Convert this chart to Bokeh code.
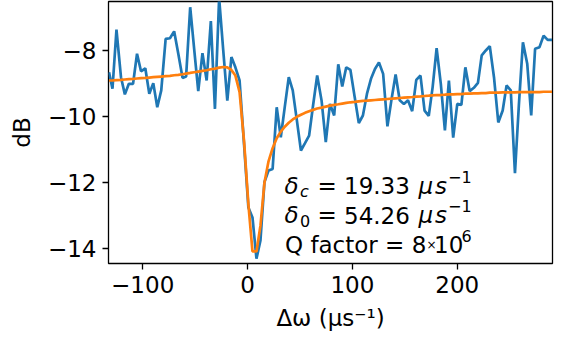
from bokeh.plotting import figure
from bokeh.models import Label, FixedTicker, ColumnDataSource
from bokeh.embed import file_html
from bokeh.resources import INLINE

# ---------------- data ----------------
detuning = [-132.1, -128.8, -125.0, -120.7, -117.0, -113.2, -109.2, -105.4, -101.6, -97.5,
            -93.7, -89.9, -86.1, -82.3, -78.1, -74.0, -70.0, -66.0, -62.0, -58.6,
            -54.7, -50.9, -47.0, -43.0, -39.0, -35.0, -31.1, -27.1, -23.2, -19.3,
            -15.4, -11.6, -7.6, -3.3, 0.8, 4.7, 8.5, 12.3, 16.1, 20.0,
            23.9, 27.8, 31.7, 35.5, 39.3, 43.1, 47.0, 50.9, 54.8, 58.7,
            62.5, 66.4, 70.6, 74.6, 78.6, 82.6, 86.5, 90.3, 94.1, 98.1,
            102.2, 106.1, 110.0, 113.9, 117.7, 121.5, 125.3, 129.3, 133.4, 137.4,
            141.2, 145.1, 149.1, 153.0, 157.0, 160.9, 164.9, 168.8, 172.8, 176.5,
            180.3, 184.3, 188.2, 192.0, 196.1, 200.0, 203.9, 207.7, 211.8, 215.8,
            219.7, 223.3, 227.2, 231.0, 235.0, 239.1, 243.3, 247.0, 251.0, 255.0,
            258.8, 262.6, 266.7, 270.5, 274.2, 278.4, 282.3, 286.2, 290.3]

measured_db = [-8.65, -9.15, -7.36, -8.80, -9.32, -9.00, -9.00, -8.09, -8.62, -8.53,
               -9.30, -8.98, -9.71, -9.20, -7.64, -7.62, -7.41, -8.10, -8.82, -8.78,
               -6.68, -7.95, -9.22, -8.07, -8.90, -7.10, -9.76, -6.40, -7.98, -9.51,
               -8.19, -8.50, -8.90, -10.85, -12.75, -13.05, -14.30, -13.75, -11.98, -11.63,
               -11.58, -9.71, -10.62, -9.70, -8.80, -9.20, -10.10, -11.02, -10.80, -10.57,
               -9.65, -8.75, -9.51, -10.77, -9.61, -9.96, -8.41, -9.08, -8.50, -8.58,
               -9.41, -10.19, -9.96, -9.30, -8.85, -8.55, -8.35, -8.70, -10.29, -9.45,
               -8.72, -9.50, -9.61, -9.50, -9.83, -8.88, -8.75, -9.81, -9.97, -9.10,
               -7.92, -9.00, -10.41, -8.90, -10.63, -9.61, -9.64, -8.50, -9.22, -9.12,
               -8.97, -8.14, -7.99, -7.86, -8.80, -10.17, -9.81, -9.05, -9.20, -11.71,
               -9.61, -7.74, -8.39, -9.96, -7.94, -7.89, -7.54, -7.67, -7.67]

fit_db = [-8.90, -8.90, -8.89, -8.88, -8.87, -8.86, -8.85, -8.84, -8.83, -8.82,
          -8.81, -8.80, -8.79, -8.78, -8.77, -8.76, -8.74, -8.73, -8.71, -8.69,
          -8.67, -8.65, -8.63, -8.61, -8.59, -8.56, -8.54, -8.51, -8.49, -8.50,
          -8.58, -8.75, -9.25, -10.75, -12.65, -14.08, -14.08, -13.30, -12.00, -11.35,
          -10.95, -10.65, -10.45, -10.30, -10.18, -10.08, -10.00, -9.94, -9.88, -9.83,
          -9.79, -9.75, -9.72, -9.69, -9.66, -9.64, -9.62, -9.60, -9.58, -9.56,
          -9.55, -9.53, -9.52, -9.51, -9.50, -9.49, -9.48, -9.47, -9.46, -9.45,
          -9.44, -9.43, -9.42, -9.41, -9.40, -9.39, -9.38, -9.37, -9.36, -9.35,
          -9.34, -9.34, -9.33, -9.32, -9.32, -9.31, -9.31, -9.30, -9.30, -9.29,
          -9.29, -9.28, -9.28, -9.27, -9.27, -9.27, -9.26, -9.26, -9.26, -9.26,
          -9.25, -9.25, -9.25, -9.25, -9.25, -9.25, -9.24, -9.24, -9.24]

x_ticks = [-100, 0, 100, 200]
x_tick_labels = ["\u2212100", "0", "100", "200"]
y_ticks = [-14, -12, -10, -8]
y_tick_labels = ["\u221214", "\u221212", "\u221210", "\u22128"]

# ---------------- layout ----------------
W, H = 562, 339
FL, FR, FT, FB = 108, 552, 1, 263
X0, X1 = -132.6, 290.8
Y0, Y1 = -14.445, -6.506
FONT = "DejaVu Sans"
FS = "23px"
SMALL = "16px"

p = figure(width=W, height=H, output_backend="svg", toolbar_location=None,
           x_range=(X0, X1), y_range=(Y0, Y1),
           min_border_left=FL, min_border_right=W - FR,
           min_border_top=FT, min_border_bottom=H - FB)
p.title.visible = False
p.background_fill_color = "white"
p.border_fill_color = "white"
p.outline_line_color = "black"
p.outline_line_width = 1.3
p.xgrid.visible = False
p.ygrid.visible = False

src = ColumnDataSource(dict(x=detuning, m=measured_db, f=fit_db))
p.line("x", "m", source=src, line_color="#1f77b4", line_width=2.7)
p.line("x", "f", source=src, line_color="#ff7f0e", line_width=2.7)

for ax, ticks, labels in ((p.xaxis[0], x_ticks, x_tick_labels), (p.yaxis[0], y_ticks, y_tick_labels)):
    ax.ticker = FixedTicker(ticks=ticks)
    ax.major_label_overrides = {t: l for t, l in zip(ticks, labels)}
    ax.minor_tick_line_color = None
    ax.major_tick_in = 0
    ax.major_tick_out = 6
    ax.major_tick_line_width = 1.3
    ax.axis_line_color = None
    ax.major_label_text_font = FONT
    ax.major_label_text_font_size = FS
    ax.major_label_text_color = "black"
    ax.axis_label_text_font = FONT
    ax.axis_label_text_font_size = FS
    ax.axis_label_text_font_style = "normal"
    ax.axis_label_text_color = "black"

p.xaxis.axis_label = "\u0394\u03c9 (\u03bcs\u207b\u00b9)"
p.yaxis.axis_label = "dB"
p.xaxis.major_label_standoff = 6
p.yaxis.major_label_standoff = 6
p.xaxis.axis_label_standoff = 9
p.yaxis.axis_label_standoff = 10


def sx(px):
    return X0 + (px - FL) / (FR - FL) * (X1 - X0)


def sy(py):
    return Y1 - (py - FT) / (FB - FT) * (Y1 - Y0)


def put(px, py, txt, size=FS, style="normal"):
    p.add_layout(Label(x=sx(px), y=sy(py), text=txt, text_font=FONT, text_font_size=size,
                       text_font_style=style, text_align="left", text_baseline="alphabetic",
                       text_color="black"))


# line 1: delta_c
put(284, 185, "\u03b4", style="italic")
put(299.5, 190.5, "c", SMALL, "italic")
put(317, 185, "=")
put(343.5, 185, "19.33")
put(418, 185, "\u03bc", style="italic")
put(434.5, 185, "s", style="italic")
put(447.5, 176, "\u22121", SMALL)
# line 2: delta_0
put(284, 214.5, "\u03b4", style="italic")
put(299.5, 220, "0", SMALL)
put(317, 214.5, "=")
put(343.5, 214.5, "54.26")
put(418, 214.5, "\u03bc", style="italic")
put(434.5, 214.5, "s", style="italic")
put(447.5, 205.5, "\u22121", SMALL)
# line 3: Q factor
put(284.5, 244, "Q factor = 8")
put(426, 244, "\u00d7", "12px")
put(433.5, 244, "10")
put(461, 235, "6", SMALL)

open("out.html", "w").write(file_html(p, INLINE))
